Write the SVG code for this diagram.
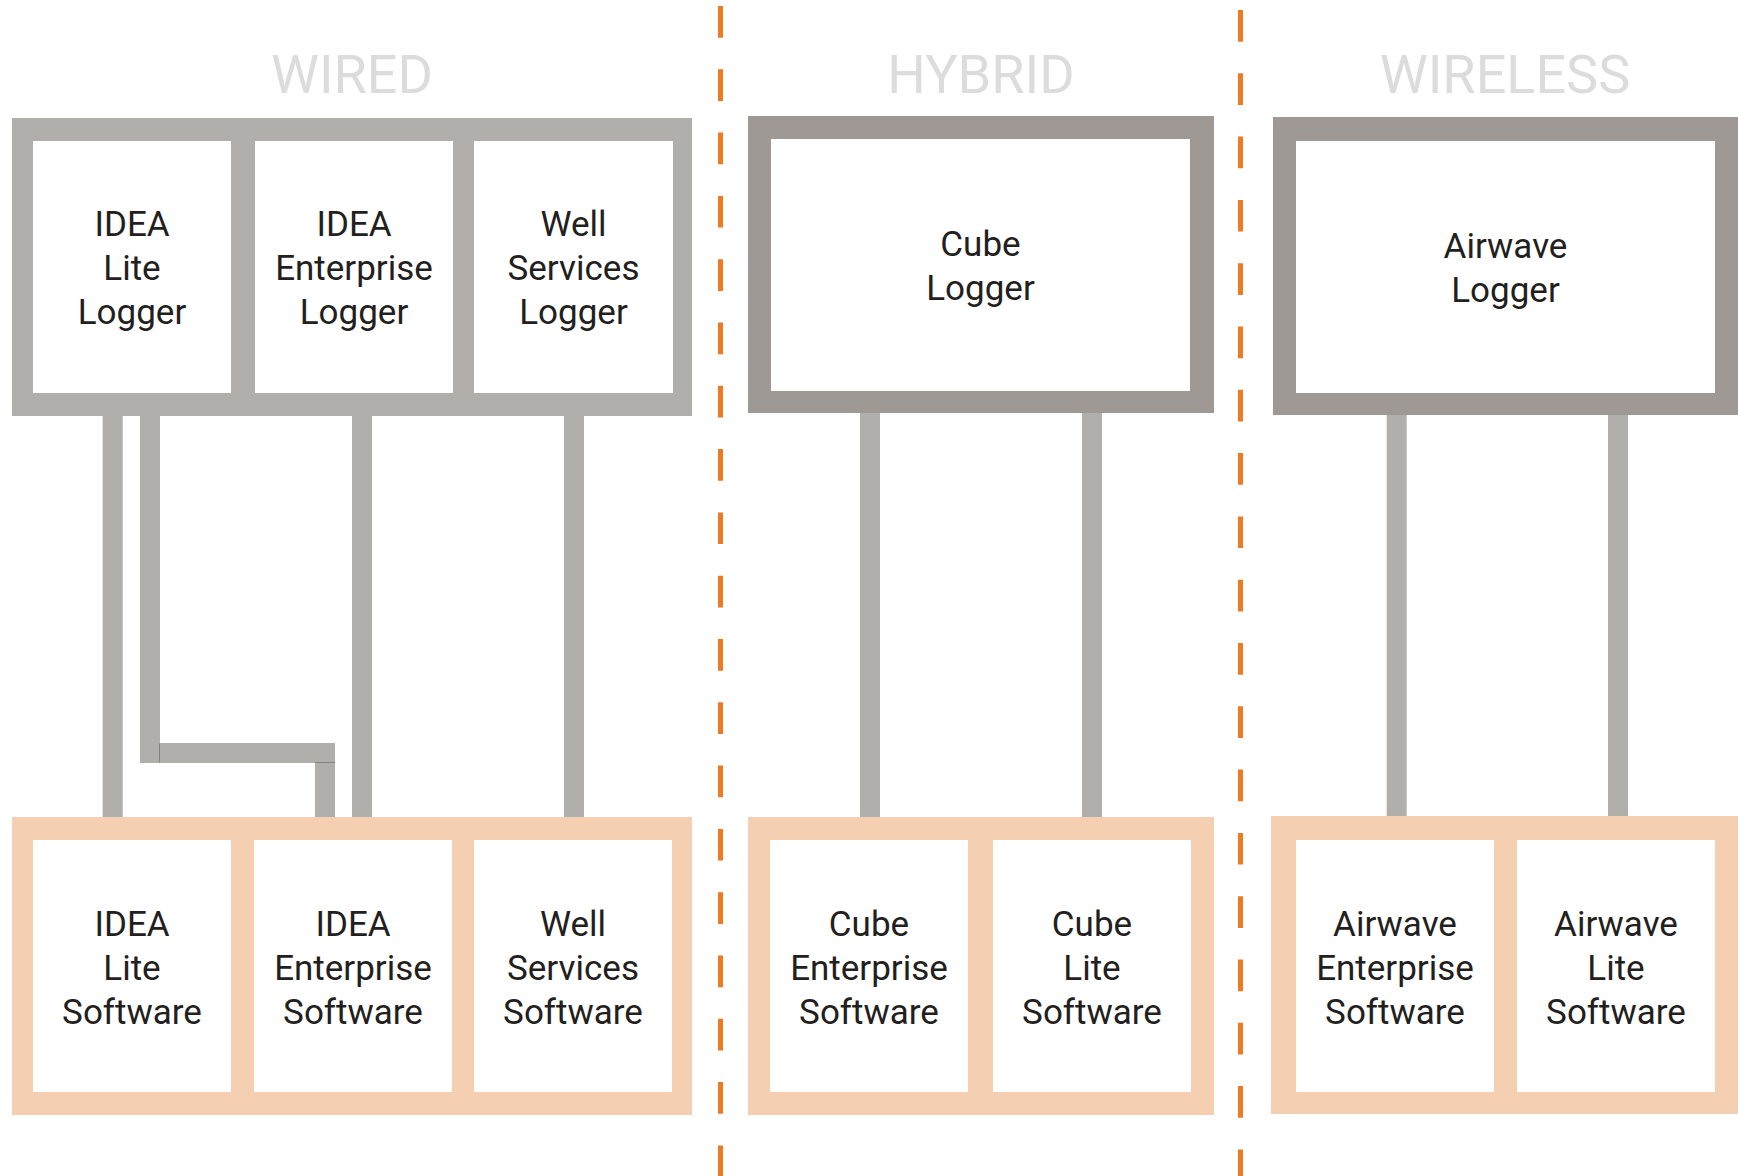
<svg xmlns="http://www.w3.org/2000/svg" width="1738" height="1176" viewBox="0 0 1738 1176">
<style>
.bg{fill:#ffffff}
.lg{fill:#b0afab}
.ld{fill:#9e9994}
.sw{fill:#f5cfb2}
.in{fill:#ffffff}
.t{font-family:Roboto,"Liberation Sans",sans-serif;font-size:35px;fill:#231f20;text-anchor:middle}
.h{font-family:Roboto,"Liberation Sans",sans-serif;font-size:54px;fill:#dcdcdc;text-anchor:middle}
.c{fill:none;stroke:#b0afab;stroke-width:20;stroke-linejoin:miter}
.seam{stroke:#82817d;stroke-width:1;fill:none}
.div{stroke:#ec7b24;stroke-width:5;fill:none;stroke-dasharray:31.7 31.6}
</style>
<rect class="bg" x="0" y="0" width="1738" height="1176"/>

<g id="titles">
<text class="h" x="352" y="93">WIRED</text>
<text class="h" x="981" y="93">HYBRID</text>
<text class="h" x="1505" y="93">WIRELESS</text>
</g>

<g id="dividers">
<line class="div" x1="720.5" y1="6" x2="720.5" y2="1176"/>
<line class="div" x1="1240.5" y1="10" x2="1240.5" y2="1176"/>
</g>

<g id="connectors">
<path class="c" d="M112.7,416 V817"/>
<path class="c" d="M150,416 V753 H325 V817"/>
<path class="c" d="M362,416 V817"/>
<path class="c" d="M574,416 V817"/>
<path class="c" d="M870,413 V817"/>
<path class="c" d="M1092,413 V817"/>
<path class="c" d="M1396.7,415 V816"/>
<path class="c" d="M1618,415 V816"/>
<line class="seam" x1="159.5" y1="743.5" x2="159.5" y2="762.5"/>
<line class="seam" x1="315" y1="762.5" x2="335" y2="762.5"/>
</g>

<g id="wired-loggers">
<rect class="lg" x="12" y="118" width="680" height="298"/>
<g id="idea-lite-logger">
<rect class="in" x="33" y="141" width="198" height="252"/>
<text class="t" x="132" y="236">IDEA</text>
<text class="t" x="132" y="280">Lite</text>
<text class="t" x="132" y="324">Logger</text>
</g>
<g id="idea-enterprise-logger">
<rect class="in" x="255" y="141" width="198" height="252"/>
<text class="t" x="354" y="236">IDEA</text>
<text class="t" x="354" y="280">Enterprise</text>
<text class="t" x="354" y="324">Logger</text>
</g>
<g id="well-services-logger">
<rect class="in" x="474" y="141" width="199" height="252"/>
<text class="t" x="573.5" y="236">Well</text>
<text class="t" x="573.5" y="280">Services</text>
<text class="t" x="573.5" y="324">Logger</text>
</g>
</g>

<g id="cube-logger">
<rect class="ld" x="748" y="116" width="466" height="297"/>
<rect class="in" x="771" y="139" width="419" height="252"/>
<text class="t" x="980.5" y="256">Cube</text>
<text class="t" x="980.5" y="300">Logger</text>
</g>

<g id="airwave-logger">
<rect class="ld" x="1273" y="117" width="465" height="298"/>
<rect class="in" x="1296" y="141" width="419" height="252"/>
<text class="t" x="1505.5" y="258">Airwave</text>
<text class="t" x="1505.5" y="302">Logger</text>
</g>

<g id="wired-software">
<rect class="sw" x="12" y="817" width="680" height="298"/>
<g id="idea-lite-software">
<rect class="in" x="33" y="840" width="198" height="252"/>
<text class="t" x="132" y="936">IDEA</text>
<text class="t" x="132" y="980">Lite</text>
<text class="t" x="132" y="1024">Software</text>
</g>
<g id="idea-enterprise-software">
<rect class="in" x="254" y="840" width="198" height="252"/>
<text class="t" x="353" y="936">IDEA</text>
<text class="t" x="353" y="980">Enterprise</text>
<text class="t" x="353" y="1024">Software</text>
</g>
<g id="well-services-software">
<rect class="in" x="474" y="840" width="198" height="252"/>
<text class="t" x="573" y="936">Well</text>
<text class="t" x="573" y="980">Services</text>
<text class="t" x="573" y="1024">Software</text>
</g>
</g>

<g id="hybrid-software">
<rect class="sw" x="748" y="817" width="466" height="298"/>
<g id="cube-enterprise-software">
<rect class="in" x="770" y="840" width="198" height="252"/>
<text class="t" x="869" y="936">Cube</text>
<text class="t" x="869" y="980">Enterprise</text>
<text class="t" x="869" y="1024">Software</text>
</g>
<g id="cube-lite-software">
<rect class="in" x="993" y="840" width="198" height="252"/>
<text class="t" x="1092" y="936">Cube</text>
<text class="t" x="1092" y="980">Lite</text>
<text class="t" x="1092" y="1024">Software</text>
</g>
</g>

<g id="wireless-software">
<rect class="sw" x="1271" y="816" width="467" height="298"/>
<g id="airwave-enterprise-software">
<rect class="in" x="1296" y="840" width="198" height="252"/>
<text class="t" x="1395" y="936">Airwave</text>
<text class="t" x="1395" y="980">Enterprise</text>
<text class="t" x="1395" y="1024">Software</text>
</g>
<g id="airwave-lite-software">
<rect class="in" x="1517" y="840" width="198" height="252"/>
<text class="t" x="1616" y="936">Airwave</text>
<text class="t" x="1616" y="980">Lite</text>
<text class="t" x="1616" y="1024">Software</text>
</g>
</g>
</svg>
